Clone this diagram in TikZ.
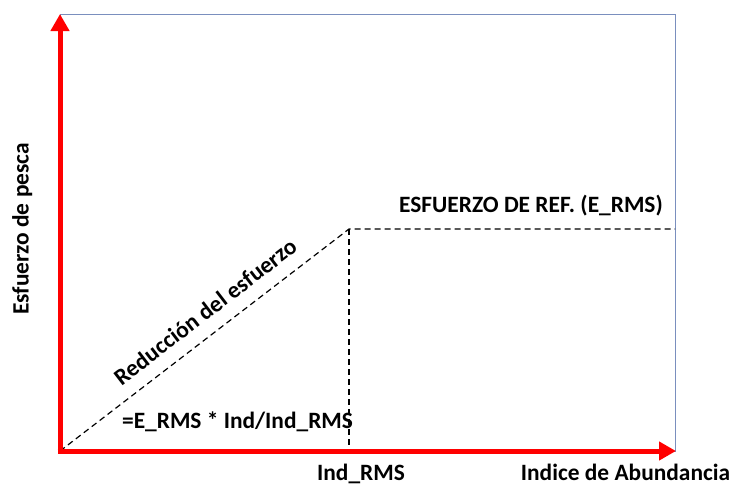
\documentclass[tikz,border=0pt]{standalone}
\usepackage{fontspec}
\setmainfont{Carlito}
\usetikzlibrary{arrows.meta}
\definecolor{boxblue}{RGB}{122,143,190}
\definecolor{axred}{RGB}{255,0,0}
\tikzset{
  axis/.style={draw=axred,line width=5pt,-{Triangle[width=18pt,length=17pt]}},
  guide/.style={draw=black,line width=1.2pt,dash pattern=on 6pt off 4pt},
  lbl/.style={font=\fontsize{23.4}{27}\selectfont\bfseries,inner sep=0pt,anchor=base}
}
\begin{document}
\begin{tikzpicture}[x=1pt,y=-1pt]
\useasboundingbox (0,0) rectangle (733,485);
\coordinate (O) at (60,451);
\coordinate (TL) at (60,14);
\coordinate (BR) at (676,451);
\coordinate (P) at (349,229);
\coordinate (PR) at (675,229);
\coordinate (PB) at (349,451);
\draw[boxblue,line width=1pt] (60,14.5) rectangle (675,451);
\draw[guide] (O) -- (P) -- (PR);
\draw[guide] (P) -- (PB);
\draw[axis] (60,453.5) -- (TL);
\draw[axis] (57.5,451) -- (BR);
\node[lbl,rotate=90] (ylab) at (28.5,229) {Esfuerzo de pesca};
\node[lbl] (xlab) at (625.5,480.5) {Indice de Abundancia};
\node[lbl] (ind) at (361,480) {Ind\_RMS};
\node[lbl] (form) at (237.5,428) {=E\_RMS * Ind/Ind\_RMS};
\node[lbl] (ref) at (531,212) {ESFUERZO DE REF. (E\_RMS)};
\node[lbl,rotate=37.6] (red) at (210,318) {Reducción del esfuerzo};
\end{tikzpicture}
\end{document}
